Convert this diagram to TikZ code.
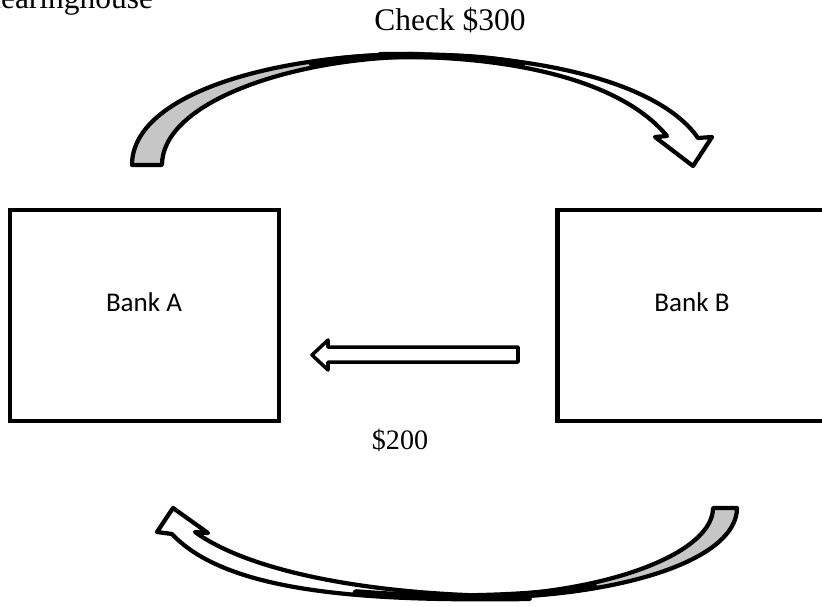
\documentclass[tikz,border=0pt]{standalone}
\usepackage{fontspec}
\setmainfont{Liberation Serif}
\newfontfamily\bankfont{Carlito}
\begin{document}
\begin{tikzpicture}[x=0.02cm,y=-0.02cm,
    bank/.style={draw,line width=2.8pt,minimum width=5.38cm,minimum height=4.22cm},
    banktext/.style={font=\bankfont\fontsize{15.4}{18}\selectfont},
    serif/.style={font=\fontsize{17.9}{21}\selectfont},
    band/.style={draw,line width=2.4pt,line join=round}]
  \useasboundingbox (0,0) rectangle (822,606);
  \draw
    (-29,8) node[serif,anchor=base west,inner sep=0pt] (title){Clearinghouse}
    (450,20) node[serif] (check){Check \$300}
    (400,440) node[font=\fontsize{16}{19}\selectfont] (pay){\$200}
    (144.5,315.5) node[bank] (a){}
    (692,315.5) node[bank] (b){}
    (144,302) node[banktext] (ta){Bank A}
    (692,302) node[banktext] (tb){Bank B};
  \begin{scope}[band]
    % check from A to B
    \draw[fill=gray!45] (132,165) .. controls (132,95) and (270,54) .. (420,54)
      -- (400,57) .. controls (280,62) and (162,105) .. (162,165) -- cycle;
    \draw[fill=white] (380,54) .. controls (560,52) and (665,90) .. (698,138)
      -- (712,137) -- (693,166) -- (655,137) -- (667,136)
      .. controls (625,85) and (530,60) .. (420,57) -- cycle;
    \draw[line width=3.8pt,line cap=round] (312,63.5) .. controls (350,57) and (380,55.5) .. (420,56)
      .. controls (460,56) and (490,58) .. (522,64);
    % back from B to A
    \draw[fill=gray!45] (737,508) .. controls (737,560) and (620,598) .. (470,598)
      -- (490,596) .. controls (620,590) and (713,550) .. (713,508) -- cycle;
    \draw[fill=white] (530,599) .. controls (380,601) and (230,596) .. (172,534)
      -- (157,532) -- (173,508) -- (208,533) -- (195,532)
      .. controls (250,572) and (370,594) .. (500,596) -- cycle;
    \draw[line width=3.8pt,line cap=round] (356,592.5) .. controls (400,596) and (440,597) .. (470,596.5)
      .. controls (520,595.5) and (560,592.5) .. (594,586.5);
    % payment
    \draw[fill=white,line width=2pt] (518,347) -- (328,347) -- (328,340) -- (312,355)
      -- (328,370) -- (328,362) -- (518,362) -- cycle;
  \end{scope}
\end{tikzpicture}
\end{document}
